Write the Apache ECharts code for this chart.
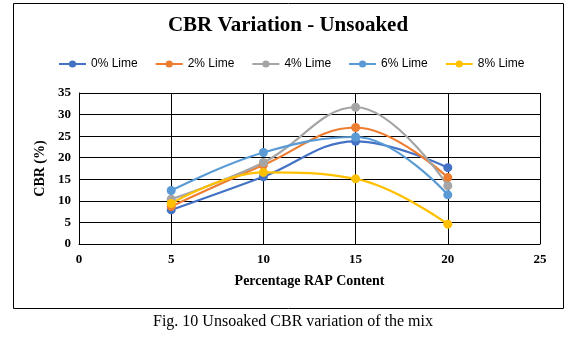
<!DOCTYPE html>
<html><head><meta charset="utf-8">
<script src="https://cdn.jsdelivr.net/npm/echarts@6/dist/echarts.min.js"></script>
<style>html,body{margin:0;padding:0;background:#fff}#c{width:580px;height:339px}</style>
</head><body><div id="c"></div>
<script>
const xValues = [5, 10, 15, 20];
const seriesNames = ['0% Lime', '2% Lime', '4% Lime', '6% Lime', '8% Lime'];
const lime0 = [7.9, 15.6, 23.8, 17.7];
const lime2 = [8.7, 18.3, 27.0, 15.4];
const lime4 = [10.4, 18.9, 31.7, 13.5];
const lime6 = [12.4, 21.2, 24.8, 11.4];
const lime8 = [9.4, 16.6, 15.1, 4.6];
const colors = ['#4472C4', '#ED7D31', '#A5A5A5', '#5B9BD5', '#FFC000'];
const allData = [lime0, lime2, lime4, lime6, lime8];

const chart = echarts.init(document.getElementById('c'));
const serif = '"Liberation Serif", "Times New Roman", serif';
chart.setOption({
  animation: false,
  backgroundColor: '#fff',
  color: colors,
  title: {
    text: 'CBR Variation - Unsoaked',
    left: 288, top: 15, textAlign: 'center', padding: 0,
    textStyle: { fontFamily: serif, fontWeight: 'bold', fontSize: 21, color: '#000' }
  },
  legend: {
    left: 58, top: 58, padding: 0, itemWidth: 27, itemHeight: 9, itemGap: 17,
    textStyle: { fontFamily: '"Liberation Sans", Arial, sans-serif', fontSize: 12, color: '#000' },
    data: seriesNames
  },
  grid: { left: 79, right: 40, top: 93, bottom: 95, containLabel: false },
  xAxis: {
    type: 'value', min: 0, max: 25, interval: 5,
    name: 'Percentage RAP Content', nameLocation: 'middle', nameGap: 30,
    nameTextStyle: { fontFamily: serif, fontWeight: 'bold', fontSize: 14, color: '#000' },
    axisLine: { show: true, lineStyle: { color: '#000', width: 1 } },
    axisTick: { show: false },
    axisLabel: { fontFamily: serif, fontWeight: 'bold', fontSize: 13, color: '#000', margin: 9 },
    splitLine: { show: true, lineStyle: { color: '#000', width: 1 } }
  },
  yAxis: {
    type: 'value', min: 0, max: 35, interval: 5,
    name: 'CBR (%)', nameLocation: 'middle', nameGap: 32,
    nameTextStyle: { fontFamily: serif, fontWeight: 'bold', fontSize: 14, color: '#000' },
    axisLine: { show: true, lineStyle: { color: '#000', width: 1 } },
    axisTick: { show: false },
    axisLabel: { fontFamily: serif, fontWeight: 'bold', fontSize: 13, color: '#000', margin: 8 },
    splitLine: { show: true, lineStyle: { color: '#000', width: 1 } }
  },
  graphic: [
    { type: 'rect', shape: { x: 13.5, y: 3.5, width: 550, height: 305 },
      style: { fill: 'none', stroke: '#000', lineWidth: 1 }, z: -1 },
    { type: 'text', left: 153, top: 314,
      style: { text: 'Fig. 10 Unsoaked CBR variation of the mix', fontFamily: serif, fontSize: 16, fill: '#000' } }
  ],
  series: seriesNames.map((n, i) => ({
    name: n, type: 'line', smooth: 0.4,
    data: xValues.map((x, j) => [x, allData[i][j]]),
    symbol: 'circle', symbolSize: 9,
    lineStyle: { width: 2.2, color: colors[i] },
    itemStyle: { color: colors[i] }
  }))
});
</script></body></html>
